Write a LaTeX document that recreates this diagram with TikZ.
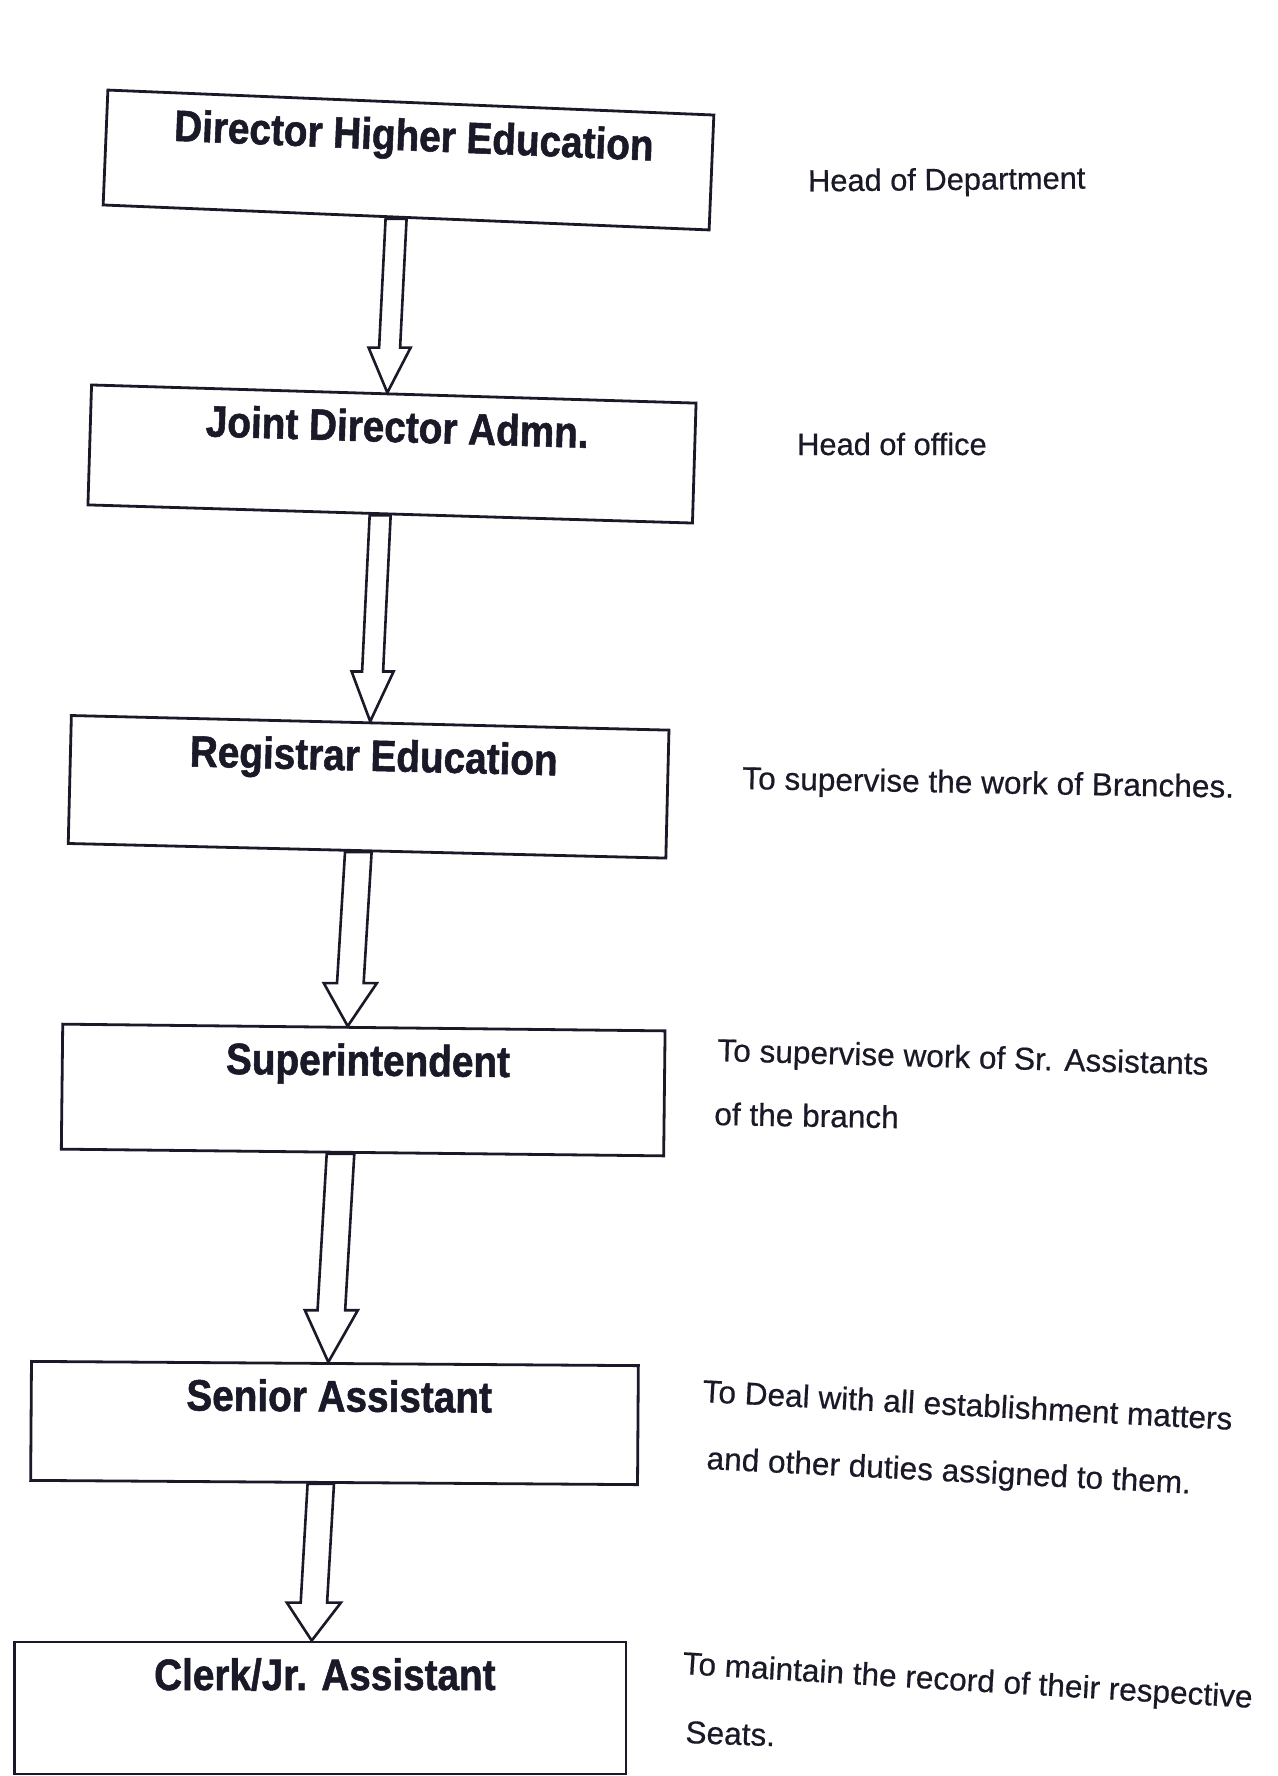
\documentclass[tikz,border=0pt]{standalone}
\usepackage{fontspec}
\setmainfont{Liberation Sans}
\newfontfamily\boxfont[FakeStretch=0.88,FakeBold=1.2]{Liberation Sans}
\newfontfamily\descfont[FakeBold=0.5]{Liberation Sans}
\usetikzlibrary{calc}
\definecolor{ink}{RGB}{25,25,40}
\begin{document}
\begin{tikzpicture}[x=1pt,y=-1pt,
  box/.style={draw=ink, line width=2.8pt, fill=white, inner sep=0pt, text=ink,
    font={\boxfont\bfseries\fontsize{44pt}{50pt}\selectfont}, text height=48pt},
  desc/.style={anchor=base west, inner sep=0pt, text=ink,
    font={\descfont\fontsize{30.8pt}{36pt}\selectfont}},
  desclg/.style={desc, font={\descfont\fontsize{31.6pt}{36pt}\selectfont}},
  blockarrow/.style n args={3}{draw=ink, line width=2.6pt, fill=white, line join=miter,
    to path={let \p1=(\tikztostart), \p2=(\tikztotarget),
      \p3=($(\tikztotarget)!#3!(\tikztostart)$) in
      (\x1-#1,\y1) -- (\x3-#1,\y3) -- (\x3-#2,\y3) -- (\x2,\y2) --
      (\x3+#2,\y3) -- (\x3+#1,\y3) -- (\x1+#1,\y1) -- cycle}}
]
\useasboundingbox (0,0) rectangle (1277,1776);
\fill[white] (0,0) rectangle (1277,1776);

% boxes
\node[box, minimum width=606.5pt, minimum height=115pt, text depth=67pt, rotate=-2.36]
  (b1) at (408.5,160) {\hspace*{9pt}Director Higher Education};
\node[box, minimum width=604.8pt, minimum height=120pt, text depth=72pt, rotate=-1.72]
  (b2) at (392,454) {\hspace*{9pt}Joint Director Admn.};
\node[box, minimum width=597.8pt, minimum height=128pt, text depth=80pt, rotate=-1.4]
  (b3) at (368.6,786.8) {\hspace*{9pt}Registrar Education};
\node[box, minimum width=602.4pt, minimum height=125pt, text depth=77pt, rotate=-0.64]
  (b4) at (363.2,1090) {\hspace*{9pt}Superintendent};
\node[box, minimum width=606.9pt, minimum height=119pt, text depth=71pt, rotate=-0.4]
  (b5) at (334.5,1423) {\hspace*{9pt}Senior Assistant};
\node[box, minimum width=611.3pt, minimum height=132pt, text depth=84pt]
  (b6) at (320.4,1708) {\hspace*{9pt}Clerk/Jr. Assistant};

% arrow end points on the boxes
\coordinate (a1s) at ($(b1.south)+(-10,0)$);
\coordinate (a1e) at ($(b2.north)+(-6.5,0)$);
\coordinate (a2s) at ($(b2.south)+(-10,0)$);
\coordinate (a2e) at ($(b3.north)+(0,0)$);
\coordinate (a3s) at ($(b3.south)+(-8.7,0)$);
\coordinate (a3e) at ($(b4.north)+(-16.2,0)$);
\coordinate (a4s) at ($(b4.south)+(-22,0)$);
\coordinate (a4e) at ($(b5.north)+(-6.6,0)$);
\coordinate (a5s) at ($(b5.south)+(-13.3,0)$);
\coordinate (a5e) at ($(b6.north)+(-8.7,0)$);

% block arrows
\draw[blockarrow={10.5pt}{21pt}{45pt}] (a1s) to (a1e);
\draw[blockarrow={10.5pt}{21pt}{50pt}] (a2s) to (a2e);
\draw[blockarrow={13.3pt}{26.5pt}{43pt}] (a3s) to (a3e);
\draw[blockarrow={13.8pt}{26.5pt}{52pt}] (a4s) to (a4e);
\draw[blockarrow={13.2pt}{27pt}{38pt}] (a5s) to (a5e);

% descriptions
\node[desc, rotate=0.6] (r1) at (808,191.5) {Head of Department};
\node[desc] (r2) at (797,455) {Head of office};
\node[desclg, rotate=-1] (r3) at (742,789) {To supervise the work of Branches.};
\node[desclg, rotate=-1.6] (r4a) at (717,1061) {To supervise work of Sr. Assistants};
\node[desclg, rotate=-1] (r4b) at (714,1125) {of the branch};
\node[desclg, rotate=-3] (r5a) at (702,1402) {To Deal with all establishment matters};
\node[desclg, rotate=-2.9] (r5b) at (706,1469) {and other duties assigned to them.};
\node[desclg, rotate=-3.4] (r6a) at (682,1674) {To maintain the record of their respective};
\node[desclg, rotate=-2] (r6b) at (685,1743) {Seats.};
\end{tikzpicture}
\end{document}
